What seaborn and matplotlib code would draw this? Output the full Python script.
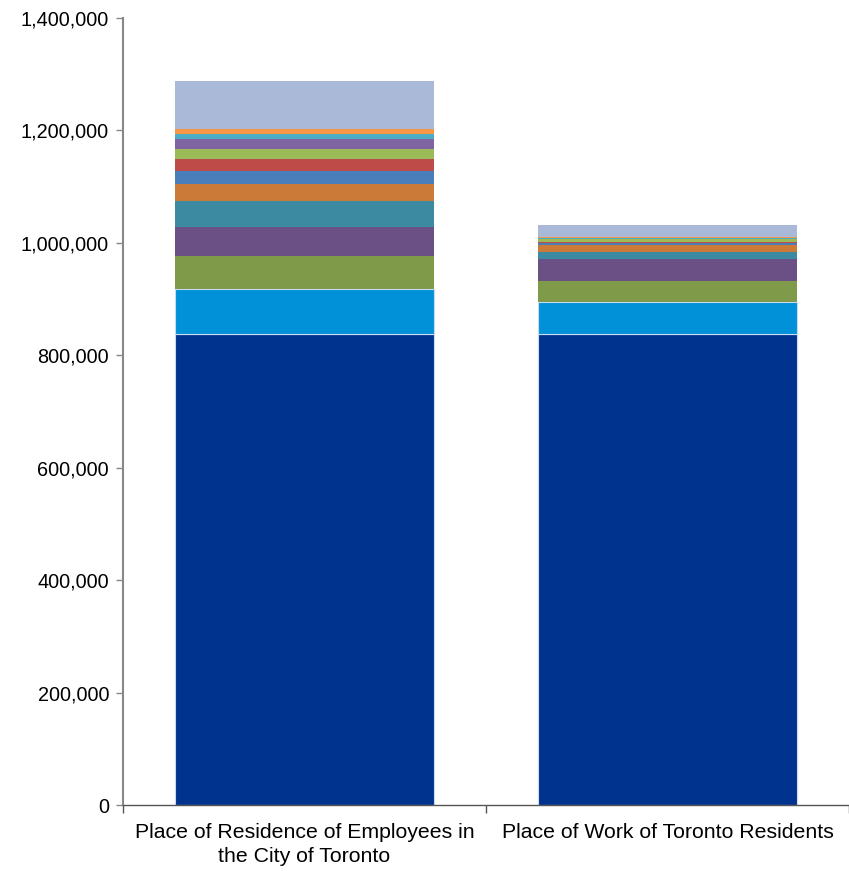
import matplotlib
matplotlib.use("Agg")
import matplotlib.pyplot as plt
import matplotlib.ticker as mticker
import numpy as np
import pandas as pd
import seaborn as sns

# Commuting flows by region (persons), stacked bottom to top
categories = ["Place of Residence of Employees in\nthe City of Toronto",
              "Place of Work of Toronto Residents"]

regions = ["Toronto", "Peel", "York", "Durham", "Halton", "Hamilton",
           "Simcoe", "Waterloo", "Niagara", "Wellington", "Dufferin",
           "Kawartha Lakes", "Other"]

toronto = [837300, 837300]
peel = [80600, 58000]
york = [58700, 36800]
durham = [51600, 39100]
halton = [46300, 12500]
hamilton = [30200, 12400]
simcoe = [23200, 3000]
waterloo = [21300, 2800]
niagara = [17800, 4300]
wellington = [17800, 1000]
dufferin = [8900, 1000]
kawartha = [8900, 1800]
other = [85400, 21400]

series = [toronto, peel, york, durham, halton, hamilton, simcoe, waterloo,
          niagara, wellington, dufferin, kawartha, other]

colors = ["#00338D", "#0091D8", "#7F9A48", "#6A5085", "#3C8AA2", "#CC7A38",
          "#4A7EBB", "#BE4B48", "#9BBB59", "#8064A2", "#4BACC6", "#F79646",
          "#AAB9D7"]

sns.set_theme(style="white")
plt.rcParams["font.family"] = ["Liberation Sans", "DejaVu Sans"]
plt.rcParams["text.color"] = "black"
plt.rcParams["xtick.color"] = "black"
plt.rcParams["ytick.color"] = "black"

fig = plt.figure(figsize=(8.49, 8.71), dpi=100)
ax = fig.add_axes([123 / 849, 66 / 871, 726 / 849, 787 / 871])

bottom = np.zeros(len(categories))
for name, vals, col in zip(regions, series, colors):
    df = pd.DataFrame({"category": categories, "value": vals})
    outlined = name in ("Toronto", "Peel")
    sns.barplot(data=df, x="category", y="value", color=col, saturation=1,
                width=0.716, bottom=bottom, ax=ax,
                edgecolor="#C9DAF2" if outlined else col,
                linewidth=0.8 if outlined else 0)
    bottom = bottom + np.array(vals)

ax.set_xlim(-0.5, 1.5)
ax.set_ylim(0, 1400000)
ax.set_yticks(np.arange(0, 1400001, 200000))
ax.yaxis.set_major_formatter(mticker.FuncFormatter(lambda v, p: f"{int(v):,}"))
ax.set_xlabel("")
ax.set_ylabel("")

# category boundary ticks on the x axis
ax.set_xticks([0, 1])
ax.set_xticks([-0.5, 0.5, 1.5], minor=True)
ax.tick_params(axis="x", which="major", length=0, pad=13, labelsize=15.3,
               labelcolor="black")
for lbl in ax.get_xticklabels():
    lbl.set_linespacing(1.3)
ax.tick_params(axis="x", which="minor", length=6, width=1, color="#555555",
               direction="out", bottom=True)
ax.tick_params(axis="y", length=5, width=1, color="#888888", direction="out",
               left=True, labelsize=14.3, pad=5, labelcolor="black")

for s in ("top", "right"):
    ax.spines[s].set_visible(False)
ax.spines["left"].set_color("#888888")
ax.spines["left"].set_linewidth(1.5)
ax.spines["bottom"].set_color("#555555")
ax.spines["bottom"].set_linewidth(1)

fig.savefig("out.png", dpi=100)
